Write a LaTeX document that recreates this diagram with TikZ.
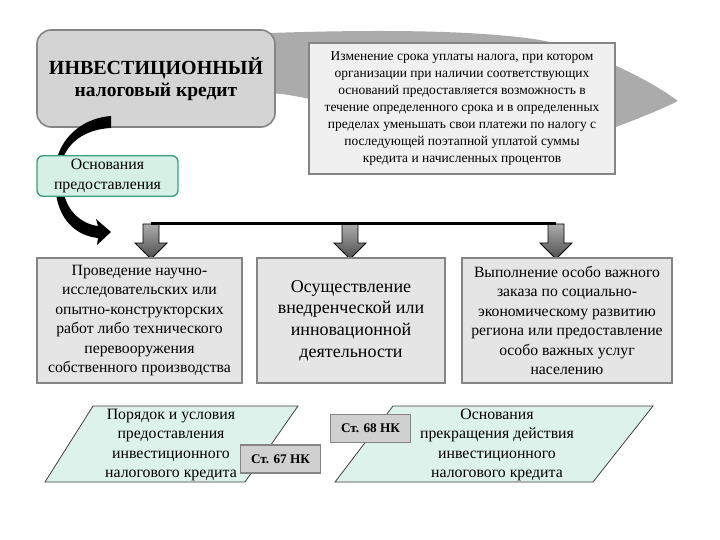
\documentclass[tikz,border=0pt]{standalone}
\usepackage{fontspec}
\setmainfont{Liberation Serif}
\definecolor{blobgray}{HTML}{ABABAB}
\definecolor{headfill}{HTML}{D4D4D4}
\definecolor{edgegray}{HTML}{858585}
\definecolor{infofill}{HTML}{F0F0F0}
\definecolor{kindfill}{HTML}{E5E5E5}
\definecolor{mintfill}{HTML}{D6F0E6}
\definecolor{mintedge}{HTML}{3E9E7E}
\definecolor{paralfill}{HTML}{DDF2EA}
\definecolor{artfill}{HTML}{D0D0D0}
\tikzset{
  headbox/.style={draw=edgegray,line width=1.6pt,fill=headfill,rounded corners=14pt,
    minimum width=238pt,minimum height=97pt,align=center},
  infobox/.style={draw=edgegray,line width=1.6pt,fill=infofill,
    minimum width=306pt,minimum height=131pt,align=center,
    font=\fontsize{13.5}{17}\selectfont},
  basebox/.style={draw=mintedge,line width=1.4pt,fill=mintfill,rounded corners=6pt,
    minimum width=141pt,minimum height=40pt,align=center,
    font=\fontsize{15.8}{20}\selectfont},
  kindbox/.style={draw=edgegray,line width=1.6pt,fill=kindfill,
    minimum height=125pt,align=center,font=\fontsize{15.7}{19.5}\selectfont},
  paralbox/.style={draw=black!75,line width=0.8pt,fill=paralfill},
  paraltext/.style={align=center,font=\fontsize{15.8}{19.3}\selectfont},
  artbox/.style={draw=edgegray,line width=1.2pt,fill=artfill,
    minimum width=80pt,minimum height=28pt,font=\fontsize{13.2}{15}\selectfont\bfseries},
  blockarrow/.style={draw=black,line width=0.9pt,top color=gray!65,bottom color=black!70},
}
\begin{document}
\begin{tikzpicture}[x=1pt,y=-1pt]
	\useasboundingbox (0,0) rectangle (720,540);
	% gray backdrop
	\fill[blobgray] (270,33) .. controls (360,30) and (470,29) .. (540,40)
		.. controls (590,50) and (650,80) .. (678,101)
		.. controls (660,110) and (630,122) .. (605,131)
		-- (310,99) .. controls (295,96) and (285,94) .. (270,93) -- cycle;
	\node[headbox] (credit) at (156,78.5) {};
	\node[font=\fontsize{20}{24}\selectfont\bfseries] (credittop) at (156,68) {ИНВЕСТИЦИОННЫЙ};
	\node[font=\fontsize{19.5}{22}\selectfont\bfseries] (creditbot) at (156,92) {налоговый кредит};
	\node[infobox] (meaning) at (462,108.5) {Изменение срока уплаты налога, при котором\\
		организации при наличии соответствующих\\
		оснований предоставляется возможность  в\\
		течение определенного срока и в определенных\\
		пределах уменьшать свои платежи по налогу с\\
		последующей поэтапной уплатой суммы\\
		кредита и начисленных процентов};
	% curved arrows
	\fill (111,116) .. controls (85,118) and (64,134) .. (57,158)
		-- (63,158) .. controls (70,140) and (88,129) .. (111,128) -- cycle;
	\fill (56,194) .. controls (60,222) and (78,236) .. (98,238) -- (97,245) -- (111,232)
		-- (96,219) -- (98,226) .. controls (82,224) and (68,212) .. (64,194) -- cycle;
	\node[basebox] (grounds) at (107.5,176) {Основания\\предоставления};
	% block arrows
	\foreach \x/\n in {151/top1,350/top2,556/top3}{
		\coordinate (\n) at (\x,224);
		\draw[blockarrow] ({\x-8},224) -- ({\x+8},224) -- ({\x+8},243) -- ({\x+16},243)
			-- (\x,259) -- ({\x-16},243) -- ({\x-8},243) -- cycle;
	}
	\draw[line width=3pt] (top1) -- (top3);
	\node[kindbox,minimum width=205pt] (research) at (139.5,320.5) {Проведение научно-\\
		исследовательских или\\опытно-конструкторских\\работ либо технического\\
		перевооружения\\собственного производства};
	\node[kindbox,minimum width=188pt,font=\fontsize{18}{21.7}\selectfont] (innov) at (351,320.5)
		{Осуществление\\внедренческой или\\инновационной\\деятельности};
	\node[kindbox,minimum width=210pt] (order) at (567,320.5) {Выполнение особо важного\\
		заказа по социально-\\экономическому развитию\\региона или предоставление\\
		особо важных услуг\\населению};
	% parallelograms
	\draw[paralbox] (45,482) -- (93,406) -- (298,406) -- (245,482) -- cycle;
	\node[paraltext] (procedure) at (171,445) {Порядок и условия\\предоставления\\
		инвестиционного\\налогового кредита};
	\draw[paralbox] (335,482) -- (393,406) -- (653,406) -- (593,482) -- cycle;
	\node[paraltext] (ending) at (497,445) {Основания\\прекращения действия\\
		инвестиционного\\налогового кредита};
	\node[artbox] (art67) at (280.5,459) {Ст. 67 НК};
	\node[artbox] (art68) at (370.5,428.5) {Ст. 68 НК};
\end{tikzpicture}
\end{document}
